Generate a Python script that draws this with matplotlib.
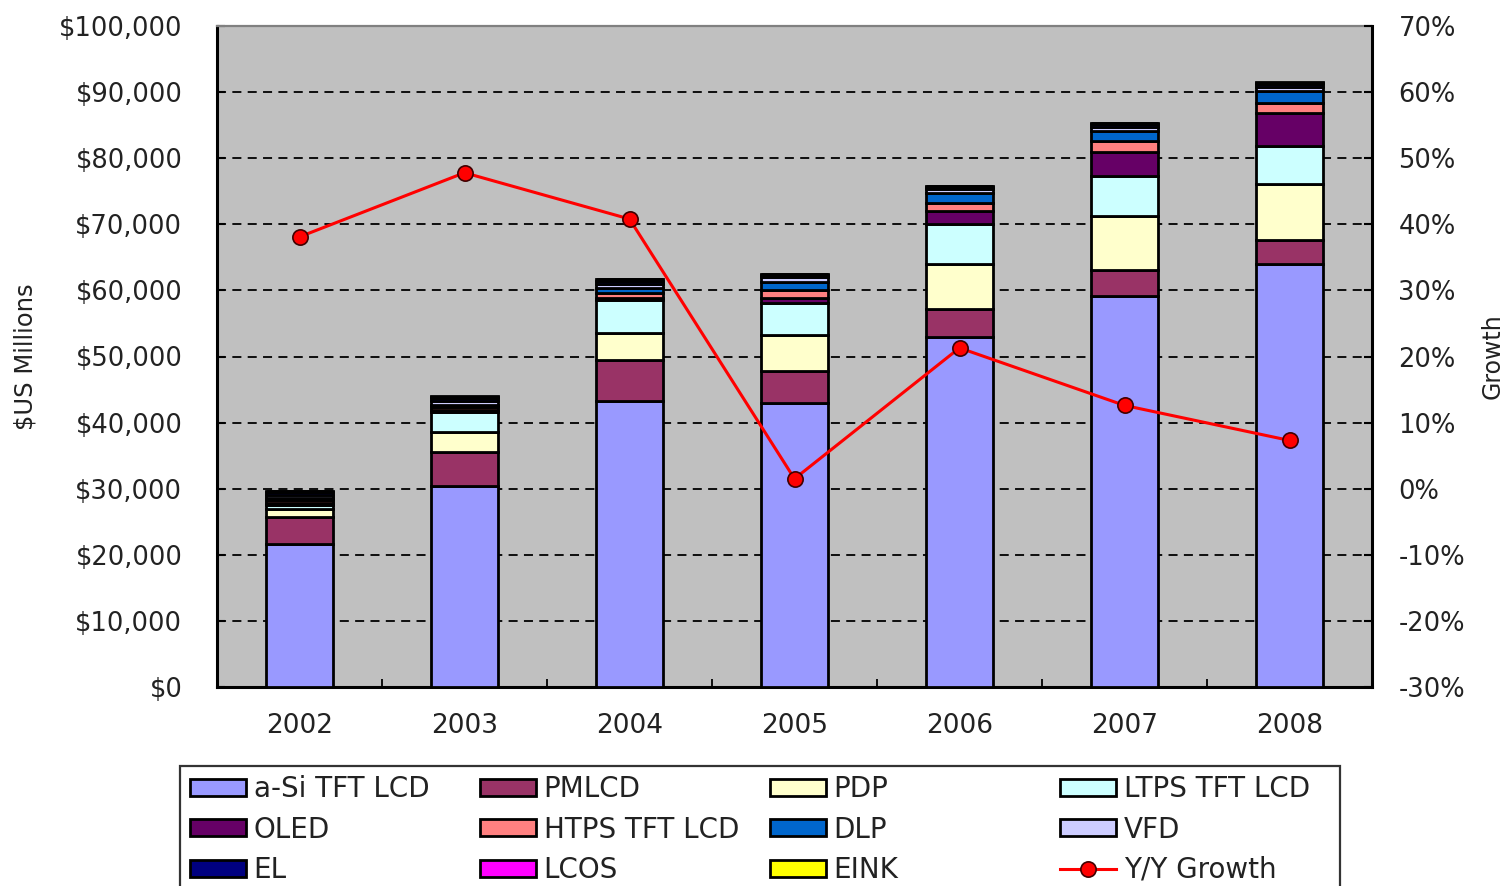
import matplotlib
matplotlib.use("Agg")
import matplotlib.pyplot as plt
import numpy as np
from matplotlib.patches import Patch, Rectangle
from matplotlib.lines import Line2D
from matplotlib.ticker import FuncFormatter, FixedLocator

years = ["2002", "2003", "2004", "2005", "2006", "2007", "2008"]

# Revenue by display technology, $US millions
a_si = [21700, 30400, 43300, 43000, 53000, 59200, 64000]
pmlcd = [4000, 5200, 6200, 4800, 4200, 3900, 3700]
pdp = [1300, 3000, 4000, 5400, 6800, 8200, 8400]
ltps = [600, 3000, 5100, 4900, 6000, 6000, 5700]
oled = [200, 300, 300, 800, 2000, 3700, 5100]
htps = [500, 500, 700, 1200, 1200, 1600, 1400]
dlp = [300, 300, 800, 1200, 1500, 1500, 1900]
vfd = [500, 600, 600, 700, 700, 600, 500]
el = [400, 400, 400, 300, 300, 400, 500]
lcos = [100, 200, 300, 200, 100, 200, 200]
eink = [100, 100, 100, 50, 50, 100, 100]

# Year-over-year growth, percent
growth = [38.1, 47.8, 40.8, 1.5, 21.3, 12.6, 7.3]

series = [
    ("a-Si TFT LCD", a_si, "#9999FF"),
    ("PMLCD", pmlcd, "#993366"),
    ("PDP", pdp, "#FFFFCC"),
    ("LTPS TFT LCD", ltps, "#CCFFFF"),
    ("OLED", oled, "#660066"),
    ("HTPS TFT LCD", htps, "#FF8080"),
    ("DLP", dlp, "#0066CC"),
    ("VFD", vfd, "#CCCCFF"),
    ("EL", el, "#000080"),
    ("LCOS", lcos, "#FF00FF"),
    ("EINK", eink, "#FFFF00"),
]

W, H = 1507, 886
fig = plt.figure(figsize=(W / 100, H / 100), dpi=100)
fig.patch.set_facecolor("white")

ax = fig.add_axes([217 / W, 1 - 687 / H, (1372 - 217) / W, (687 - 26) / H])
ax.set_facecolor("#C0C0C0")

x = np.arange(len(years))
bottom = np.zeros(len(years))
for name, vals, col in series:
    vals = np.array(vals, dtype=float)
    ax.bar(x, vals, width=0.41, bottom=bottom, color=col,
           edgecolor="black", linewidth=2.0, zorder=3)
    bottom += vals

ax.set_xlim(-0.5, len(years) - 0.5)
ax.set_ylim(0, 100000)
ax.set_yticks(np.arange(0, 100001, 10000))
ax.yaxis.set_major_formatter(FuncFormatter(lambda v, p: "${:,.0f}".format(v)))
ax.set_xticks(x)
ax.set_xticklabels(years)
ax.xaxis.set_minor_locator(FixedLocator(np.arange(0.5, len(years) - 1, 1.0)))

txt = "#222222"
ax.tick_params(axis="x", which="major", length=0, pad=19, labelsize=19, labelcolor=txt)
ax.tick_params(axis="x", which="minor", direction="in", length=6, width=1.3, color="black")
ax.tick_params(axis="y", direction="in", length=6, width=1.5, pad=25,
               labelsize=18.5, labelcolor=txt)

for yv in range(10000, 100000, 10000):
    ax.axhline(yv, color="black", linestyle=(0, (5, 3.5)), linewidth=1.3, zorder=1)

ax.spines["left"].set_linewidth(2.2)
ax.spines["bottom"].set_linewidth(2.2)
ax.spines["top"].set_color("#808080")
ax.spines["top"].set_linewidth(1.6)
ax.spines["right"].set_visible(False)

ax.set_ylabel("$US Millions", fontsize=17.5, color=txt)
ax.yaxis.set_label_coords(-0.155, 0.5)

ax2 = ax.twinx()
ax2.set_ylim(-30, 70)
ax2.set_yticks(np.arange(-30, 71, 10))
ax2.yaxis.set_major_formatter(FuncFormatter(lambda v, p: "{:.0f}%".format(v)))
ax2.tick_params(axis="y", direction="in", length=6, width=1.5, pad=19,
                labelsize=18.5, labelcolor=txt)
for s in ("left", "top", "bottom"):
    ax2.spines[s].set_visible(False)
ax2.spines["right"].set_linewidth(2.2)
ax2.set_ylabel("Growth", fontsize=17, color=txt)
ax2.yaxis.set_label_coords(1.094, 0.5)

ax2.plot(x, growth, color="#FF0000", linewidth=2.2, marker="o",
         markersize=11, markerfacecolor="#FF0000", markeredgecolor="#400000",
         markeredgewidth=1.2, zorder=5)

# Legend: frame plus four evenly spaced columns
fig.add_artist(Rectangle((180 / W, -0.05), 1160 / W, (1 - 766 / H) + 0.05,
                         transform=fig.transFigure, fill=False,
                         edgecolor="#333333", linewidth=1.6))

handles = [Patch(facecolor=c, edgecolor="black", linewidth=2.0) for _, _, c in series]
labels = [n for n, _, _ in series]
handles.append(Line2D([0], [0], color="#FF0000", linewidth=2.2, marker="o",
                      markersize=11, markerfacecolor="#FF0000",
                      markeredgecolor="#400000", markeredgewidth=1.2))
labels.append("Y/Y Growth")

col_x = [190, 480, 770, 1060]
for j, cx in enumerate(col_x):
    idx = [j, j + 4, j + 8]
    lg = fig.legend([handles[i] for i in idx], [labels[i] for i in idx],
                    loc="upper left", bbox_to_anchor=(cx / W, 1 - 775 / H),
                    frameon=False, fontsize=20, handlelength=2.0,
                    handleheight=0.58, handletextpad=0.29, labelspacing=0.45,
                    borderpad=0.0, borderaxespad=0.0)
    for t in lg.get_texts():
        t.set_color(txt)

fig.savefig("out.png", dpi=100)
